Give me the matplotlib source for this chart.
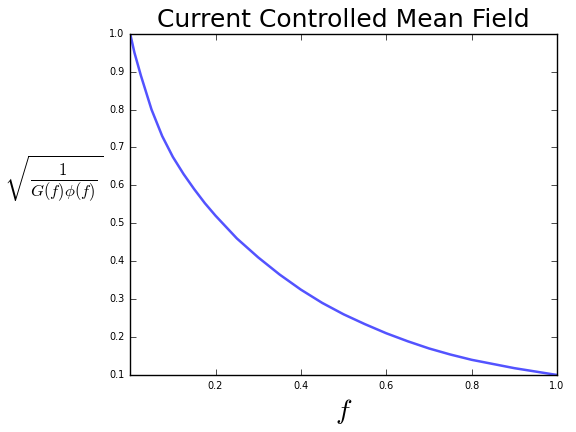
import matplotlib
matplotlib.use("Agg")
import matplotlib.pyplot as plt

plt.style.use("classic")

# values
f_vals = [0.0, 0.01, 0.025, 0.05, 0.075, 0.1, 0.125, 0.15, 0.175, 0.2, 0.25, 0.3, 0.35,
          0.4, 0.45, 0.5, 0.55, 0.6, 0.65, 0.7, 0.75, 0.8, 0.85, 0.9, 0.95, 1.0]
y_vals = [1.0, 0.95, 0.89, 0.80, 0.73, 0.675, 0.63, 0.59, 0.553, 0.52, 0.46, 0.41, 0.365,
          0.325, 0.29, 0.26, 0.234, 0.21, 0.189, 0.17, 0.154, 0.14, 0.129, 0.118, 0.109, 0.10]
x_ticks = [0.2, 0.4, 0.6, 0.8, 1.0]
y_ticks = [0.1, 0.2, 0.3, 0.4, 0.5, 0.6, 0.7, 0.8, 0.9, 1.0]

fig = plt.figure(figsize=(5.76, 4.32), dpi=100, facecolor="white")
ax = fig.add_axes([0.226, 0.132, 0.741, 0.79])

ax.plot(f_vals, y_vals, color="#4040ff", linewidth=1.8, alpha=0.9)
ax.set_xlim(0, 1)
ax.set_ylim(0.1, 1.0)
ax.set_xticks(x_ticks)
ax.set_yticks(y_ticks)
ax.tick_params(labelsize=7)

ax.set_title("Current Controlled Mean Field", fontsize=18)
ax.set_xlabel(r"$f$", fontsize=20)
ax.set_ylabel(r"$\sqrt{\frac{1}{G(f)\phi(f)}}$", fontsize=17, rotation=0, labelpad=40)

fig.savefig("out.png", dpi=100)
